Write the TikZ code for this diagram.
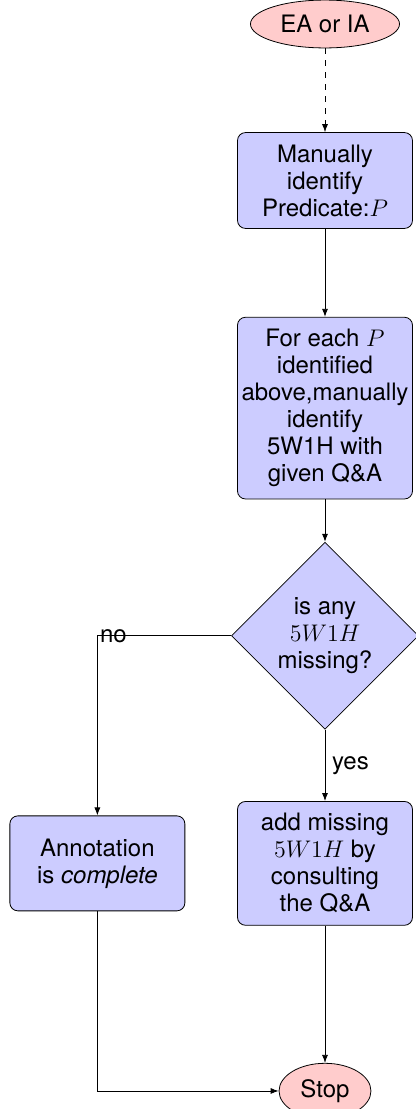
\documentclass[tikz,border=0pt]{standalone}
\usepackage[no-math]{fontspec}
\setmainfont{TeX Gyre Heros}
\usepackage{tikz}
\usetikzlibrary{shapes.geometric, arrows.meta, positioning}

\begin{document}
\begin{tikzpicture}[node distance=4cm, font=\fontsize{12}{13.5}\selectfont,
    block/.style={draw, rectangle, rounded corners, fill=blue!20, align=center, minimum width=87.5pt, minimum height=47.5pt, inner xsep=1.5pt, inner ysep=6pt},
    cloud/.style={draw, ellipse, fill=red!20, inner sep=4pt},
    decision/.style={draw, diamond, fill=blue!20, align=center, inner sep=0pt, minimum width=93.5pt, minimum height=93.5pt},
    line/.style={draw, -{Latex[length=4pt,width=3pt]}}]
    \useasboundingbox (-162.5pt,12pt) rectangle (45.5pt,-542.5pt);

    % Main column
    \node (init) [cloud] {EA or IA};
    \node (identify) [block, below of=init, yshift=1.25cm] {Manually\\identify\\Predicate:$P$};
    \node (foreach) [block, below of=identify] {For each $P$\\identified\\above,manually\\identify\\5W1H with\\given Q\&A};
    \node (decide) [decision, below of=foreach] {is any\\$5W1H$\\missing?};
    \node (addmissing) [block, below of=decide] {add missing\\$5W1H$ by\\consulting\\the Q\&A};
    \node (stop) [cloud, below of=addmissing] {Stop};

    % Side branch
    \node (complete) [block, left of=addmissing] {Annotation\\is \textit{complete}};

    % Connectors
    \path [line, dashed] (init) -- (identify);
    \path [line] (identify) -- (foreach);
    \path [line] (foreach) -- (decide);
    \path [line] (decide) -- node[right] {yes} (addmissing);
    \path [line] (decide) -| node[pos=0.44] {no} (complete);
    \path [line] (addmissing) -- (stop);
    \path [line] (complete) |- (stop);
\end{tikzpicture}
\end{document}
